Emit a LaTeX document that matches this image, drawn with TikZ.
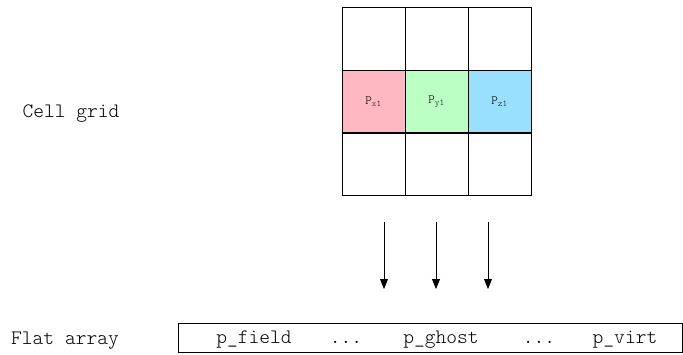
\documentclass[tikz,border=0pt]{standalone}
\usetikzlibrary{arrows.meta}
\definecolor{cpink}{HTML}{FFB8C1}
\definecolor{cgreen}{HTML}{BBFFC4}
\definecolor{cblue}{HTML}{99E0FF}
\tikzset{
  cell/.style={draw=black, line width=0.8pt, minimum width=63pt, minimum height=63pt, inner sep=0pt, font=\ttfamily\fontseries{l}\fontsize{12.5}{14}\selectfont},
  lbl/.style={font=\ttfamily\fontseries{l}\fontsize{20.5}{24}\selectfont, inner sep=0pt, anchor=base},
  arr/.style={-{Triangle[width=8pt,length=10pt]}, line width=0.8pt},
}
\begin{document}
\begin{tikzpicture}[x=1pt,y=-1pt]
\useasboundingbox (0,0) rectangle (683,354);
% grid
\node[cell] (c11) at (373.5,38.5) {};
\node[cell] (c12) at (436.5,38.5) {};
\node[cell] (c13) at (499.5,38.5) {};
\node[cell, fill=cpink] (c21) at (373.5,101.5) {P\textsubscript{x1}};
\node[cell, fill=cgreen] (c22) at (436.5,101.5) {P\textsubscript{y1}};
\node[cell, fill=cblue] (c23) at (499.5,101.5) {P\textsubscript{z1}};
\node[cell] (c31) at (373.5,164) {};
\node[cell] (c32) at (436.5,164) {};
\node[cell] (c33) at (499.5,164) {};
% labels
\node[lbl] (lcell) at (71,117) {Cell grid};
\node[lbl] (lflat) at (65,344) {Flat array};
% flat array
\node[draw=black, line width=0.8pt, minimum width=504pt, minimum height=29pt, inner sep=0pt] (flat) at (430,337.5) {};
\node[lbl] (pf) at (254,343) {p\_field};
\node[lbl] (d1) at (346,343) {...};
\node[lbl] (pg) at (441,343) {p\_ghost};
\node[lbl] (d2) at (539,343) {...};
\node[lbl] (pv) at (625,343) {p\_virt};
% arrows
\coordinate (a1s) at (384,222); \coordinate (a1e) at (384,289);
\coordinate (a2s) at (436,222); \coordinate (a2e) at (436,289);
\coordinate (a3s) at (488,222); \coordinate (a3e) at (488,289);
\draw[arr] (a1s) -- (a1e);
\draw[arr] (a2s) -- (a2e);
\draw[arr] (a3s) -- (a3e);
\end{tikzpicture}
\end{document}
